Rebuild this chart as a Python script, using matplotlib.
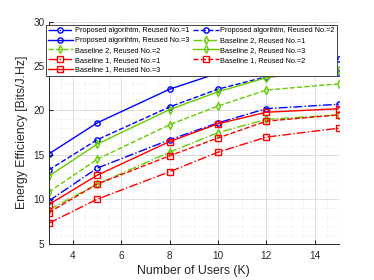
import numpy as np
import matplotlib.pyplot as plt
from matplotlib.ticker import MultipleLocator

plt.rcParams["font.family"] = ["Liberation Sans", "DejaVu Sans"]

# number of users
users = [3, 5, 8, 10, 12, 15]

# energy efficiency values
prop_r1 = [9.8, 13.5, 16.7, 18.6, 20.2, 20.7]
prop_r2 = [13.3, 16.7, 20.4, 22.4, 23.8, 24.2]
prop_r3 = [15.1, 18.6, 22.4, 24.2, 25.1, 25.8]
base2_r1 = [8.8, 11.7, 15.3, 17.5, 19.0, 19.5]
base2_r2 = [10.8, 14.5, 18.4, 20.5, 22.3, 23.0]
base2_r3 = [12.6, 16.2, 20.1, 22.1, 23.7, 24.6]
base1_r1 = [7.3, 10.0, 13.1, 15.3, 17.0, 18.0]
base1_r2 = [8.5, 11.7, 14.9, 16.9, 18.8, 19.5]
base1_r3 = [9.4, 12.7, 16.5, 18.5, 19.8, 20.2]

blue = "#0000ff"
green = "#66cc00"
red = "#ff0000"

series = [
    (prop_r1, blue, "-.", "o", "Proposed algorihtm, Reused No.=1"),
    (prop_r2, blue, "--", "o", "Proposed algorihtm, Reused No.=2"),
    (prop_r3, blue, "-", "o", "Proposed algorihtm, Reused No.=3"),
    (base2_r1, green, "-.", "d", "Baseline 2, Reused No.=1"),
    (base2_r2, green, "--", "d", "Baseline 2, Reused No.=2"),
    (base2_r3, green, "-", "d", "Baseline 2, Reused No.=3"),
    (base1_r1, red, "-.", "s", "Baseline 1, Reused No.=1"),
    (base1_r2, red, "--", "s", "Baseline 1, Reused No.=2"),
    (base1_r3, red, "-", "s", "Baseline 1, Reused No.=3"),
]

fig = plt.figure(figsize=(3.74, 2.8), dpi=100)
ax = fig.add_axes([0.1305, 0.13, 0.7755, 0.7925])

handles = []
for vals, c, ls, mk, lab in series:
    h, = ax.plot(users, vals, color=c, linestyle=ls, marker=mk, markersize=3.8,
                 markerfacecolor="none", markeredgewidth=1.0, linewidth=1.0, label=lab)
    handles.append(h)

ax.set_xlim(3, 15)
ax.set_ylim(5, 30)
ax.xaxis.set_major_locator(MultipleLocator(2))
ax.yaxis.set_major_locator(MultipleLocator(5))
ax.xaxis.set_minor_locator(MultipleLocator(0.5))
ax.yaxis.set_minor_locator(MultipleLocator(1))
ax.grid(True, which="major", color="#dddddd", linewidth=0.7)
ax.grid(True, which="minor", color="#e3e3e3", linewidth=0.5, linestyle=":")
ax.set_axisbelow(True)

for side in ["top", "right"]:
    ax.spines[side].set_visible(False)
for side in ["left", "bottom"]:
    ax.spines[side].set_color("#262626")
    ax.spines[side].set_linewidth(0.7)

ax.tick_params(which="both", direction="in", colors="#262626", labelsize=7.2)
ax.tick_params(axis="x", pad=5)
ax.tick_params(axis="y", pad=3)
ax.tick_params(which="major", length=3)
ax.tick_params(which="minor", length=0)
ax.set_xlabel("Number of Users (K)", fontsize=8.8, color="#262626", labelpad=3)
ax.set_ylabel("Energy Efficiency [Bits/J.Hz]", fontsize=8.8, color="#262626", labelpad=4)

# MATLAB-like row-major ordering in a two-column legend
order = [0, 2, 4, 6, 8, 1, 3, 5, 7]
leg = ax.legend([handles[i] for i in order], [handles[i].get_label() for i in order],
                ncol=2, fontsize=5.3, loc="upper left", bbox_to_anchor=(-0.011, 0.985),
                frameon=True, fancybox=False, framealpha=1, edgecolor="#262626",
                handlelength=3.4, handletextpad=0.25, columnspacing=0.6,
                labelspacing=0.35, borderpad=0.3, borderaxespad=0)
leg.get_frame().set_linewidth(0.6)

plt.savefig("out.png", dpi=100)
